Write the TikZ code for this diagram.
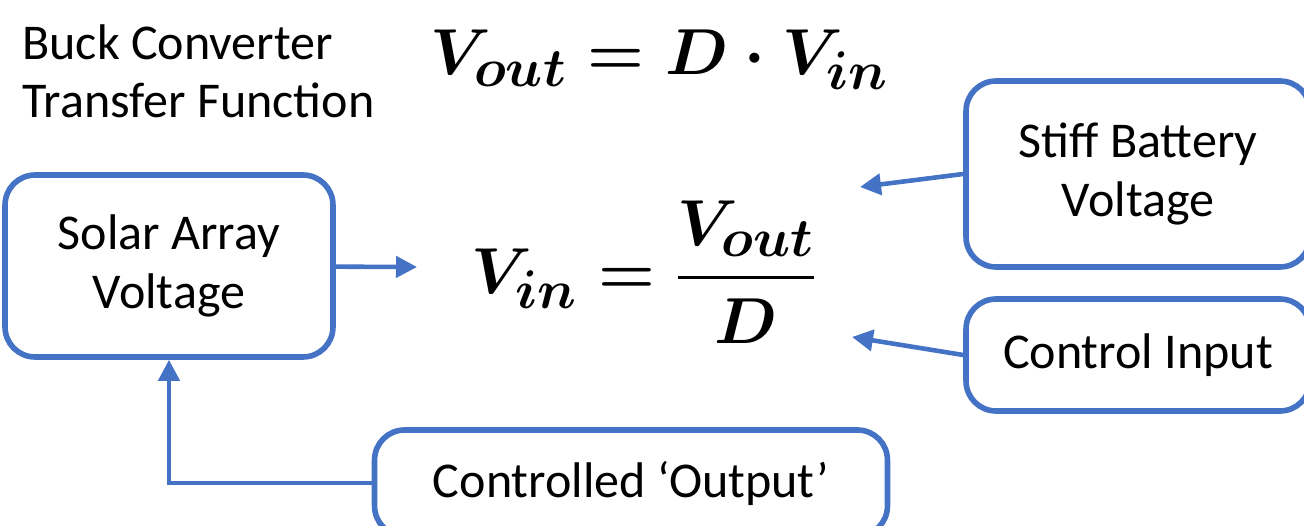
\documentclass[tikz,border=0pt]{standalone}
\usepackage{fix-cm}
\usepackage{amsmath}
\usepackage{fontspec}
\setmainfont{Carlito}
\usetikzlibrary{arrows.meta, positioning, calc}
\definecolor{boxblue}{HTML}{4472C4}
\DeclareMathSizes{37}{37}{31}{25}

\begin{document}
\begin{tikzpicture}[
        x=0.02cm, y=-0.02cm,
        box/.style={draw=boxblue, line width=3.2pt, rounded corners=0.6cm, align=center,
            font=\fontsize{28.5}{34}\selectfont, inner sep=0pt},
        feed/.style={draw=boxblue, line width=2.6pt, -{Triangle[length=0.42cm, width=0.42cm]}},
        eqn/.style={font=\fontsize{37}{44}\selectfont\boldmath, inner sep=0pt}
    ]
        \clip (0,0) rectangle (1304,526);
        % text and equations
        \node[anchor=north west, align=left, inner sep=0pt, font=\fontsize{28.5}{33}\selectfont] (title) at (22,24) {Buck Converter\\Transfer Function};
        \node[eqn] (eqout) at (659,60) {$V_{out}=D\cdot V_{in}$};
        \node[eqn] (eqin) at (644,272) {$V_{in}=\genfrac{}{}{2pt}{0}{V_{out}}{D}$};

        % boxes
        \node[box, minimum width=6.56cm, minimum height=3.64cm] (solar) at (169,266) {Solar Array\\Voltage};
        \node[box, minimum width=6.88cm, minimum height=3.72cm] (stiff) at (1138,174) {Stiff Battery\\Voltage};
        \node[box, minimum width=6.88cm, minimum height=2.24cm] (ctrl) at (1138,355) {Control Input};
        \node[box, minimum width=10.26cm, minimum height=2.12cm] (output) at (631,483) {Controlled ‘Output’};

        \coordinate (solartip) at (417,267);
        \coordinate (stifftip) at (860,187);
        \coordinate (ctrltip) at (852,337);

        \draw[feed] (solar) -- (solartip);
        \draw[feed] (stiff.west) -- (stifftip);
        \draw[feed] (ctrl.west) -- (ctrltip);
        \draw[feed] (output.west) -| (solar.south);
    \end{tikzpicture}
\end{document}
